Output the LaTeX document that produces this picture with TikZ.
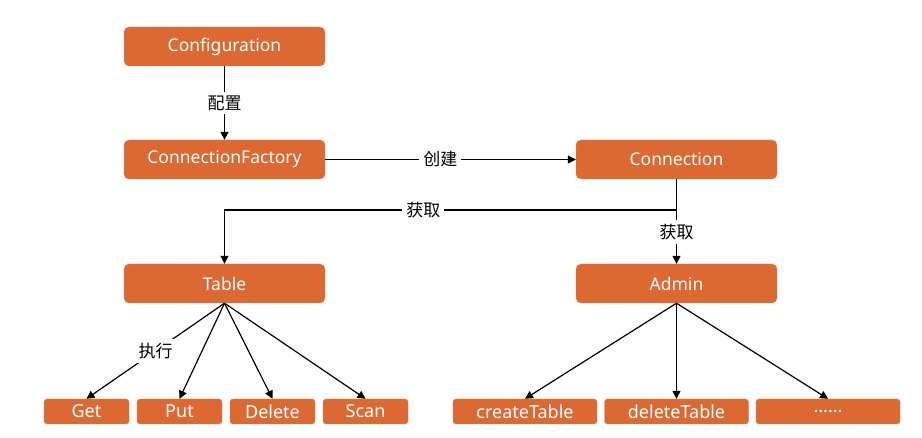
\documentclass[tikz,border=0pt]{standalone}
\usepackage{fontspec}
\setmainfont{Noto Sans}
\newfontfamily\cjk{Noto Sans CJK SC}
\usetikzlibrary{arrows.meta}
\definecolor{boxorange}{RGB}{219,105,49}
\newcommand{\etcdots}{......}

\begin{document}
\begin{tikzpicture}[x=1pt, y=-1pt,
    box/.style={rectangle, rounded corners=5pt, fill=boxorange, draw=boxorange!80!white,
      text=white, minimum width=201pt, minimum height=39pt, inner sep=0pt,
      font=\fontsize{17.5}{20}\selectfont},
    leaf/.style={box, minimum height=25pt, rounded corners=3pt,
      font=\fontsize{18}{20}\selectfont},
    lbl/.style={fill=white, inner sep=4pt, font=\cjk\fontsize{17}{19}\selectfont},
    arr/.style={-{Triangle[length=8pt, width=8pt]}, line width=1.2pt}]
    \useasboundingbox (0,0) rectangle (922,438);

    % Knoten oben
    \node[box] (conf) at (224.5,46.5) {Configuration};
    \node[box] (factory) at (224.5,159.5) {ConnectionFactory};
    \node[box] (conn) at (676.5,159.5) {Connection};
    \node[box] (table) at (224.5,283.5) {Table};
    \node[box] (admin) at (676.5,283.5) {Admin};
    \coordinate (split) at (676.5,210);

    % Verbindungen
    \draw[arr] (conf) -- node[lbl] {配置} (factory);
    \draw[arr] (factory) -- node[lbl, pos=0.46] {创建} (conn);
    \draw[arr] (conn.south) -- (split) -| node[lbl, pos=0.28] {获取} (table.north);
    \draw[arr] (split) -- node[lbl, pos=0.41] {获取} (admin.north);

    % Operationen der Tabelle
    \foreach \i/\name/\txt in {0/get/Get, 1/put/Put, 2/delete/Delete, 3/scan/Scan} {
            \node[leaf, minimum width=85pt] (\name) at ({86.5+93*\i},411.5) {\txt};
            \draw[arr] (table.south) -- (\name.north);
        }
    \path (table.south) -- node[lbl] {执行} (get.north);

    % Operationen des Admin
    \foreach \i/\name/\txt in {0/create/createTable, 1/deltab/deleteTable, 2/more/\etcdots} {
            \node[leaf, minimum width=144pt] (\name) at ({525+151.5*\i},411.5) {\txt};
            \draw[arr] (admin.south) -- (\name.north);
        }
\end{tikzpicture}
\end{document}
